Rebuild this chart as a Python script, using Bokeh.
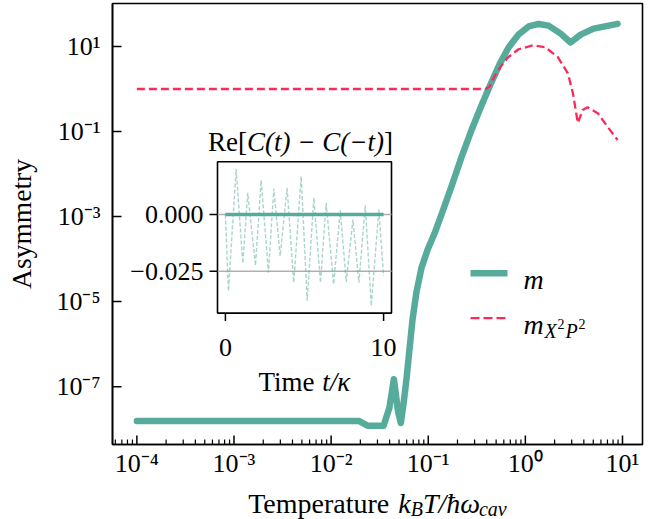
import math
from bokeh.plotting import figure
from bokeh.layouts import column
from bokeh.models import Range1d, FixedTicker, CustomJSTickFormatter, Label, LinearScale
from bokeh.embed import file_html
from bokeh.resources import INLINE

# ---------------- data ----------------
temp_m = [1e-4, 1.95e-2, 2.4e-2, 3.47e-2, 3.98e-2, 4.43e-2, 4.9e-2, 5.22e-2, 0.0556,
          0.0597, 0.0641, 0.0689, 0.0757, 0.0853, 0.0984, 0.116, 0.140, 0.174, 0.220,
          0.279, 0.354, 0.438, 0.542, 0.671, 0.851, 1.08, 1.37, 1.73, 2.31, 2.92, 3.71,
          5.05, 8.9]
asym_m = [1.55e-8, 1.55e-8, 1.2e-8, 1.2e-8, 3.2e-8, 1.5e-7, 2.5e-8, 1.4e-8, 3.9e-8,
          1.5e-7, 7.6e-7, 3.8e-6, 1.7e-5, 6.3e-5, 1.66e-4, 3.98e-4, 1.29e-3, 5.2e-3, 2.5e-2,
          0.108, 0.415, 1.29, 3.79, 9.5, 19.0, 29.5, 33.8, 30.9, 20.0, 12.4, 19.0,
          26.3, 34.0]

temp_r = [1e-4, 0.39, 0.43, 0.474, 0.56, 0.66, 0.85, 1.2, 1.6, 2.16, 2.74, 3.09, 3.47,
          3.89, 4.37, 5.56, 7.08, 8.9]
asym_r = [1.0, 1.0, 1.15, 1.88, 3.4, 5.5, 8.6, 10.6, 9.6, 5.6, 2.33, 0.79, 0.158,
          0.32, 0.37, 0.27, 0.126, 0.063]

# inset: Re[C(t) - C(-t)]
ins_t = [0.0, 0.19, 0.68, 1.10, 1.41, 1.90, 2.26, 2.72, 3.06, 3.46, 3.90, 4.32, 4.79,
         5.17, 5.59, 6.01, 6.37, 6.84, 7.26, 7.64, 8.06, 8.44, 8.84, 9.22, 9.70, 10.0]
ins_v = [0.0, -0.0336, 0.0200, -0.0215, 0.0095, -0.0224, 0.0151, -0.0256, 0.0113,
         -0.0183, 0.0117, -0.0300, 0.0168, -0.0380, 0.0073, -0.0300, 0.0051, -0.0307,
         0.0018, -0.0297, -0.0022, -0.0300, 0.0041, -0.0402, 0.0022, -0.0270]
ins_solid_t = [0.0, 10.0]
ins_solid_v = [0.0, 0.0]
ins_hlines = [0.0, -0.025]

XTICKS = [1e-4, 1e-3, 1e-2, 1e-1, 1e0, 1e1]
XMINOR = [m * 10.0 ** e for e in range(-5, 2) for m in range(2, 10)]
YTICKS = [1e-7, 1e-5, 1e-3, 1e-1, 1e1]
INS_XTICKS = [0, 10]
INS_XLABELS = ["0", "10"]
INS_YTICKS = [0.0, -0.025]
INS_YLABELS = ["0.000", "\u22120.025"]

TEAL = "#56ab9b"
RED = "#fb2a5d"
SERIF = "Liberation Serif"

# ---------------- layout ----------------
W, H = 672, 480
H2 = 39
MB_L, MB_R, MB_T, MB_B = 112, 30, 3, 34
FW = W - MB_L - MB_R
FH = H - MB_T - MB_B
XL0, XL1 = -4.251, 1.206
YL0, YL1 = -8.36, 2.01
XMIN = [x for x in XMINOR if XL0 < math.log10(x) < XL1]


def fx(px):
    return 10 ** (XL0 + px / FW * (XL1 - XL0))


def fy(py):
    return 10 ** (YL0 + py / FH * (YL1 - YL0))


p = figure(width=W, height=H, x_axis_type="log", y_axis_type="log",
           x_range=Range1d(10 ** XL0, 10 ** XL1), y_range=Range1d(10 ** YL0, 10 ** YL1),
           output_backend="svg", toolbar_location=None,
           min_border_left=MB_L, min_border_right=MB_R, min_border_top=MB_T,
           min_border_bottom=MB_B)
p.xgrid.visible = False
p.ygrid.visible = False
p.outline_line_color = "black"
p.outline_line_width = 1.6
p.background_fill_color = "white"
p.border_fill_color = "white"

fmt_code = """
const e = Math.round(Math.log10(tick));
const m = {"-":"\u207b","0":"\u2070","1":"\u00b9","2":"\u00b2","3":"\u00b3","4":"\u2074",
           "5":"\u2075","6":"\u2076","7":"\u2077","8":"\u2078","9":"\u2079"};
return "10" + String(e).split("").map(c => m[c]).join("");
"""
p.xaxis.ticker = FixedTicker(ticks=XTICKS, minor_ticks=XMINOR)
p.yaxis.ticker = FixedTicker(ticks=YTICKS, minor_ticks=[])
for ax in (p.xaxis[0], p.yaxis[0]):
    ax.formatter = CustomJSTickFormatter(code=fmt_code)
    ax.major_label_text_font = SERIF
    ax.major_label_text_font_size = "26px"
    ax.major_label_text_color = "black"
    ax.major_tick_in = 0
    ax.major_tick_out = 0
    ax.minor_tick_in = 0
    ax.minor_tick_out = 0
    ax.axis_line_color = "black"
    ax.axis_line_width = 1.6
p.xaxis.major_label_standoff = 4
p.yaxis.major_label_standoff = 12
p.yaxis.axis_label = "Asymmetry"
p.yaxis.axis_label_text_font = SERIF
p.yaxis.axis_label_text_font_size = "27.5px"
p.yaxis.axis_label_text_font_style = "normal"
p.yaxis.axis_label_text_color = "black"
p.yaxis.axis_label_standoff = 16

# inward ticks drawn on the plot frame
TK_MAJ, TK_MIN = 9, 5
p.segment(x0=XTICKS, x1=XTICKS, y0=[fy(0)] * len(XTICKS), y1=[fy(TK_MAJ)] * len(XTICKS),
          line_color="black", line_width=1.5)
p.segment(x0=XMIN, x1=XMIN, y0=[fy(0)] * len(XMIN), y1=[fy(TK_MIN)] * len(XMIN),
          line_color="black", line_width=1.2)
p.segment(x0=[fx(0)] * len(YTICKS), x1=[fx(TK_MAJ)] * len(YTICKS), y0=YTICKS, y1=YTICKS,
          line_color="black", line_width=1.5)

# ---------------- main curves ----------------
p.line(temp_m, asym_m, line_color=TEAL, line_width=6.5, line_join="round", line_cap="round")
p.line(temp_r, asym_r, line_color=RED, line_width=2.3, line_dash="8 4")

# ---------------- inset (drawn on linear extra ranges) ----------------
IL, IR, IB, IT = 105.0, 279.0, 132.0, 284.0
IX = (-0.5, 10.5)
IY = (-0.0434, 0.0232)
sxi = (IR - IL) / (IX[1] - IX[0])
syi = (IT - IB) / (IY[1] - IY[0])
p.extra_x_ranges = {"ins": Range1d(IX[0] - IL / sxi, IX[1] + (FW - IR) / sxi)}
p.extra_y_ranges = {"ins": Range1d(IY[0] - IB / syi, IY[1] + (FH - IT) / syi)}
p.extra_x_scales = {"ins": LinearScale()}
p.extra_y_scales = {"ins": LinearScale()}
ins = dict(x_range_name="ins", y_range_name="ins")

p.quad(left=[IX[0]], right=[IX[1]], bottom=[IY[0]], top=[IY[1]], fill_color="white",
       line_color="black", line_width=1.6, **ins)
p.segment(x0=[IX[0]] * len(ins_hlines), x1=[IX[1]] * len(ins_hlines), y0=ins_hlines,
          y1=ins_hlines, line_color="#b0b0b0", line_width=1.5, **ins)
p.line(ins_t, ins_v, line_color=TEAL, line_alpha=0.5, line_width=1.4, line_dash="4 2", **ins)
p.line(ins_solid_t, ins_solid_v, line_color=TEAL, line_width=3.5, **ins)
TL = 8
p.segment(x0=INS_XTICKS, x1=INS_XTICKS, y0=[IY[0]] * 2, y1=[IY[0] - TL / syi] * 2,
          line_color="black", line_width=1.5, **ins)
p.segment(x0=[IX[0]] * 2, x1=[IX[0] - TL / sxi] * 2, y0=INS_YTICKS, y1=INS_YTICKS,
          line_color="black", line_width=1.5, **ins)


def lab(fig, x, y, text, size, style="normal", align="left", baseline="alphabetic"):
    fig.add_layout(Label(x=x, y=y, text=text, text_font=SERIF,
                         text_font_size=f"{size}px", text_font_style=style,
                         text_align=align, text_baseline=baseline, text_color="black"))


def plab(px, py, text, size, **kw):
    lab(p, fx(px), fy(py), text, size, **kw)


for t, s in zip(INS_XTICKS, INS_XLABELS):
    plab(IL + (t - IX[0]) * sxi, 97, s, 26, align="center")
for v, s in zip(INS_YTICKS, INS_YLABELS):
    plab(IL - 14, IB + (v - IY[0]) * syi, s, 26, align="right", baseline="middle")

# inset title Re[C(t) - C(-t)]
cx = (IL + IR) / 2 - 4
x0 = cx - 92.5
plab(x0, 304, "Re[", 27)
plab(x0 + 39.0, 304, "C(t) \u2212 C(\u2212t)", 27, style="italic")
plab(x0 + 39.0 + 136.9, 304, "]", 27)
# inset xlabel Time t/kappa
cx = (IL + IR) / 2
x0 = cx - 46
plab(x0, 63, "Time ", 27)
plab(x0 + 63.7, 63, "t/\u03ba", 27, style="italic")

# ---------------- legend ----------------
p.line([fx(358.0), fx(395.0)], [fy(172)] * 2, line_color=TEAL, line_width=6.5, line_cap="butt")
p.line([fx(358.0), fx(395.0)], [fy(127)] * 2, line_color=RED, line_width=2.3, line_dash="9 4")
plab(411.0, 166, "m", 28, style="italic")
plab(411.0, 121, "m", 28, style="italic")
plab(432.0, 114, "X", 20, style="italic")
plab(445.0, 121, "2", 14)
plab(453.0, 114, "P", 20, style="italic")
plab(466.0, 121, "2", 14)

# ---------------- x-axis label strip (below the plot, frame aligned with p) ----------------
p2 = figure(width=W, height=H2, x_range=Range1d(MB_L, MB_L + FW), y_range=Range1d(0, H2),
            output_backend="svg", toolbar_location=None, x_axis_location=None,
            y_axis_location=None, min_border=0, outline_line_color=None)
p2.xgrid.visible = False
p2.ygrid.visible = False
p2.border_fill_color = "white"
yb = 16
x0 = MB_L + FW / 2 - 129.3
lab(p2, x0, yb, "Temperature", 28)
x1 = x0 + 143.1 + 7.0
lab(p2, x1, yb, "k", 28, style="italic")
lab(p2, x1 + 12.4, yb - 5, "B", 20, style="italic")
lab(p2, x1 + 12.4 + 12.2, yb, "T/\u0127\u03c9", 28, style="italic")
lab(p2, x1 + 12.4 + 12.2 + 56.0, yb - 5, "cav", 20, style="italic")

layout = column(p, p2, spacing=0)
open("out.html", "w").write(file_html(layout, INLINE))
